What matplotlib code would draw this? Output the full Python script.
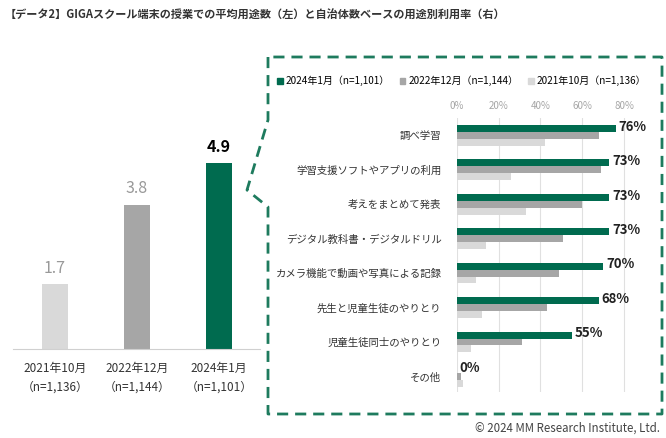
import matplotlib
matplotlib.use("Agg")
import matplotlib.pyplot as plt
from matplotlib.lines import Line2D
from matplotlib.patches import Patch
import numpy as np

plt.rcParams['font.family'] = ['Noto Sans CJK JP', 'DejaVu Sans']

# データ
periods = ["2021年10月\n（n=1,136）", "2022年12月\n（n=1,144）", "2024年1月\n（n=1,101）"]
avg_uses = [1.7, 3.8, 4.9]

categories = ["調べ学習", "学習支援ソフトやアプリの利用", "考えをまとめて発表",
              "デジタル教科書・デジタルドリル", "カメラ機能で動画や写真による記録",
              "先生と児童生徒のやりとり", "児童生徒同士のやりとり", "その他"]
rate_2024 = [76, 73, 73, 73, 70, 68, 55, 0]
rate_2022 = [68, 69, 60, 51, 49, 43, 31, 2]
rate_2021 = [42, 26, 33, 14, 9, 12, 7, 3]
series_names = ["2024年1月（n=1,101）", "2022年12月（n=1,144）", "2021年10月（n=1,136）"]
xticks = [0, 20, 40, 60, 80]

GREEN = "#006B4F"
GRAY = "#A6A6A6"
LIGHT = "#D9D9D9"
DASH = "#1E7B5E"
colors_left = [LIGHT, GRAY, GREEN]

W, H = 666, 438
fig = plt.figure(figsize=(W / 100, H / 100), dpi=100)

def px_box(left, top, right, bottom):
    return [left / W, 1 - bottom / H, (right - left) / W, (bottom - top) / H]

# タイトル
fig.text(5 / W, 1 - 15 / H,
         "【データ2】GIGAスクール端末の授業での平均用途数（左）と自治体数ベースの用途別利用率（右）",
         fontsize=8, fontweight="bold", color="#333333", va="center", ha="left")

# 左: 平均用途数
axl = fig.add_axes(px_box(13, 140, 260, 349))
x = np.arange(len(avg_uses))
axl.bar(x, avg_uses, width=0.317, color=colors_left)
axl.set_xlim(-0.512, 2.5)
axl.set_ylim(0, 5.5)
for i, v in enumerate(avg_uses):
    last = i == len(avg_uses) - 1
    axl.text(i, v + 0.42, f"{v:.1f}", ha="center", va="center", fontsize=11.5,
             color="black" if last else "#999999",
             fontweight="bold" if last else "normal")
for s in ["top", "left", "right"]:
    axl.spines[s].set_visible(False)
axl.spines["bottom"].set_color("#D0D0D0")
axl.set_yticks([])
axl.set_xticks(x)
axl.set_xticklabels(periods, fontsize=8.5, color="#333333", linespacing=1.6)
axl.tick_params(axis="x", length=0, pad=9)

# 右: 用途別利用率
axr = fig.add_axes(px_box(456.7, 118, 456.7 + 86 * 2.091, 392))
y = np.arange(len(categories))
h = 0.2
axr.barh(y - h, rate_2024, height=h, color=GREEN)
axr.barh(y, rate_2022, height=h, color=GRAY)
axr.barh(y + h, rate_2021, height=h, color=LIGHT)
axr.set_xlim(0, 86)
axr.set_ylim(7.45, -0.5)
axr.set_xticks(xticks)
axr.set_xticklabels([f"{t}%" for t in xticks], fontsize=7, color="#A6A6A6")
axr.xaxis.tick_top()
axr.tick_params(axis="x", length=0, pad=5)
axr.grid(axis="x", color="#E0E0E0", linewidth=0.8)
axr.set_axisbelow(True)
for s in axr.spines.values():
    s.set_visible(False)
axr.set_yticks(y)
axr.set_yticklabels(categories, fontsize=7.5, color="#333333")
axr.tick_params(axis="y", length=0, pad=11)
for i, v in enumerate(rate_2024):
    axr.text(v + 1.4, i - h - 0.05, f"{v}%", ha="left", va="center",
             fontsize=9.5, fontweight="bold", color="#222222", clip_on=False)

handles = [Patch(color=c) for c in [GREEN, GRAY, LIGHT]]
fig.legend(handles, series_names, loc="center left", ncol=3,
           bbox_to_anchor=(272 / W, 1 - 81 / H), frameon=False,
           fontsize=7.2, handlelength=0.55, handleheight=0.55,
           handletextpad=0.3, columnspacing=1.0, borderpad=0)

# 点線の枠
bx = [268, 268, 247, 268, 268, 662, 662, 268]
by = [57, 120, 190, 207, 414, 414, 57, 57]
fig.add_artist(Line2D([v / W for v in bx], [1 - v / H for v in by],
                      transform=fig.transFigure, color=DASH, linewidth=2,
                      dashes=(4, 2.5)))

fig.text(660 / W, 1 - 428 / H, "© 2024 MM Research Institute, Ltd.",
         ha="right", va="center", fontsize=8.3, color="#444444")

fig.savefig("out.png", dpi=100)
